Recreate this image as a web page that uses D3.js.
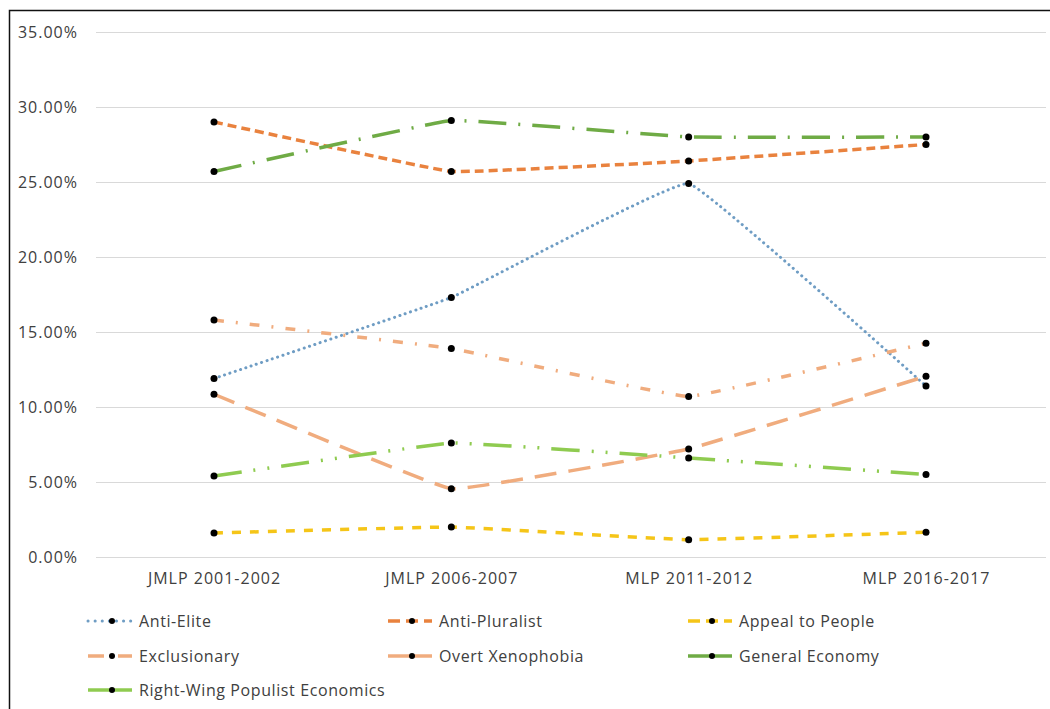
<!DOCTYPE html>
<html>
<head>
<meta charset="utf-8">
<script src="https://cdn.jsdelivr.net/npm/d3@7"></script>
<style>
  html, body { margin: 0; padding: 0; background: #fff; }
  svg { display: block; font-family: "Open Sans", "Noto Sans", sans-serif; }
</style>
</head>
<body>
<svg id="chart" width="1050" height="709"></svg>
<script>
// Campaign periods on the x axis
const periods = ["JMLP 2001-2002", "JMLP 2006-2007", "MLP 2011-2012", "MLP 2016-2017"];

// Share of discourse per theme (percent)
const antiElite = [11.9, 17.3, 24.9, 11.4];
const antiPluralist = [29.0, 25.7, 26.4, 27.5];
const appealToPeople = [1.6, 2.0, 1.15, 1.65];
const exclusionary = [15.8, 13.9, 10.7, 14.25];
const overtXenophobia = [10.85, 4.55, 7.2, 12.05];
const generalEconomy = [25.7, 29.1, 28.0, 28.0];
const rightWingEconomics = [5.4, 7.6, 6.6, 5.5];

const yTicks = [0, 5, 10, 15, 20, 25, 30, 35];

const series = [
  { name: "Anti-Elite", values: antiElite, color: "#6f9dc4", dash: "0.1 5.5", cap: "round", width: 3, legendDash: "0.1 7" },
  { name: "Anti-Pluralist", values: antiPluralist, color: "#e9823e", dash: "9 5", cap: "butt", width: 3.5, legendDash: "12 6" },
  { name: "Appeal to People", values: appealToPeople, color: "#f5c518", dash: "9 9", cap: "butt", width: 3.5, legendDash: "12 6" },
  { name: "Exclusionary", values: exclusionary, color: "#f0ac7e", dash: "10 12 2 12", cap: "butt", width: 3.5, legendDash: "16 6 2 6" },
  { name: "Overt Xenophobia", values: overtXenophobia, color: "#f0ac7e", dash: "22 12", cap: "butt", width: 3.5, legendDash: null },
  { name: "General Economy", values: generalEconomy, color: "#6fab45", dash: "28 12 2 12", cap: "butt", width: 3.5, legendDash: null },
  { name: "Right-Wing Populist Economics", values: rightWingEconomics, color: "#8fcb50", dash: "28 12 2 12 2 12", cap: "butt", width: 3.5, legendDash: null }
];

const svg = d3.select("#chart");

// Outer frame (top and left edges)
svg.append("path")
  .attr("d", "M9.5,709 L9.5,10.5 L1050,10.5")
  .attr("fill", "none").attr("stroke", "#111").attr("stroke-width", 1.5);

const x = d3.scalePoint().domain(periods).range([214, 926]);
const y = d3.scaleLinear().domain([0, 35]).range([557, 32]);

// Horizontal gridlines
svg.append("g").selectAll("line").data(yTicks).join("line")
  .attr("x1", 96).attr("x2", 1046)
  .attr("y1", d => Math.round(y(d)) + 0.5).attr("y2", d => Math.round(y(d)) + 0.5)
  .attr("stroke", "#d9d9d9").attr("stroke-width", 1);

const labelStyle = sel => sel
  .attr("fill", "#404040")
  .style("font-size", "16px")
  .style("letter-spacing", "1px")
  .style("font-family", "'Open Sans', sans-serif");

// Y axis labels
const yAxis = d3.axisLeft(y).tickValues(yTicks).tickSize(0).tickPadding(0)
  .tickFormat(d => d3.format(".2f")(d) + "%");
const gy = svg.append("g").attr("transform", "translate(78,0)").call(yAxis);
gy.select(".domain").remove();
gy.selectAll("text").call(labelStyle).attr("dy", "0.35em");

// X axis labels
const xAxis = d3.axisBottom(x).tickSize(0).tickPadding(0);
const gx = svg.append("g").attr("transform", "translate(0,573)").call(xAxis);
gx.select(".domain").remove();
gx.selectAll("text").call(labelStyle).attr("dy", "0.71em");

// Lightly smoothed lines
const line = d3.line()
  .x((d, i) => x(periods[i]))
  .y(d => y(d))
  .curve(d3.curveCardinal.tension(0.8));

const gLines = svg.append("g");
series.forEach(s => {
  gLines.append("path")
    .datum(s.values)
    .attr("d", line)
    .attr("fill", "none")
    .attr("stroke", s.color)
    .attr("stroke-width", s.width)
    .attr("stroke-dasharray", s.dash)
    .attr("stroke-linecap", s.cap);
});

// Point markers
series.forEach(s => {
  gLines.append("g").selectAll("circle").data(s.values).join("circle")
    .attr("cx", (d, i) => x(periods[i]))
    .attr("cy", d => y(d))
    .attr("r", 3.5)
    .attr("fill", "#000");
});

// Legend
const legendCols = [88, 388, 688];
const legendRows = [621, 656, 690];
const legend = svg.append("g");
series.forEach((s, i) => {
  const col = i % 3, row = Math.floor(i / 3);
  const g = legend.append("g").attr("transform", `translate(${legendCols[col]},${legendRows[row]})`);
  g.append("line")
    .attr("x1", 0).attr("x2", 44).attr("y1", 0).attr("y2", 0)
    .attr("stroke", s.color).attr("stroke-width", s.width)
    .attr("stroke-dasharray", s.legendDash)
    .attr("stroke-linecap", s.cap);
  g.append("circle").attr("cx", 24).attr("cy", 0).attr("r", 3).attr("fill", "#000");
  g.append("text")
    .attr("x", 51).attr("y", 0).attr("dy", "0.35em")
    .attr("fill", "#404040")
    .style("font-size", "16px")
    .style("letter-spacing", "0.6px")
    .text(s.name);
});
</script>
</body>
</html>
